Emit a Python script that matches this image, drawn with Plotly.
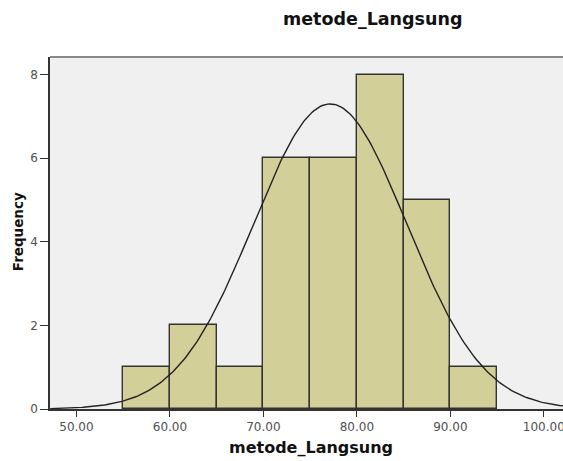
import numpy as np
import plotly.graph_objects as go

# Histogram data (bin edges at 5-unit intervals)
bin_starts = [55, 60, 65, 70, 75, 80, 85, 90]
counts = [1, 2, 1, 6, 6, 8, 5, 1]
bin_width = 5
# Fitted normal curve parameters
mean_val = 77.14
sd_val = 8.2
n_total = sum(counts)

x_ticks = [50, 60, 70, 80, 90, 100]
y_ticks = [0, 2, 4, 6, 8]

title_text = "metode_Langsung"
x_title = "metode_Langsung"
y_title = "Frequency"

centers = [b + bin_width / 2 for b in bin_starts]
xs = np.linspace(47.2, 103, 300)
ys = n_total * bin_width / (sd_val * np.sqrt(2 * np.pi)) * np.exp(-((xs - mean_val) ** 2) / (2 * sd_val ** 2))

W, H = 563, 461
L, R, T, B = 49.5, 0, 57.3, 461 - 409.3
pw = W - L - R
ph = H - T - B

def px_x(p):
    return (p - L) / pw

def px_y(p):
    return (H - B - p) / ph

fig = go.Figure()
fig.add_trace(go.Bar(
    x=centers, y=counts, width=[bin_width] * len(counts),
    marker=dict(color="#d3cf98", line=dict(color="#333333", width=1.4)),
    showlegend=False, hoverinfo="skip",
))
fig.add_trace(go.Scatter(
    x=xs, y=ys, mode="lines",
    line=dict(color="#222222", width=1.4),
    showlegend=False, hoverinfo="skip",
))

font_fam = "DejaVu Sans, sans-serif"
fig.update_layout(
    width=W, height=H,
    margin=dict(l=L, r=R, t=T, b=B, pad=0),
    paper_bgcolor="white",
    plot_bgcolor="#f0f0f0",
    bargap=0,
    font=dict(family=font_fam, size=12, color="#333333"),
    xaxis=dict(
        range=[47.17, 102.05], tickvals=x_ticks, tickformat=".2f",
        showgrid=False, zeroline=False, showline=True, linecolor="#333333", linewidth=1.5,
        ticks="outside", ticklen=6, tickcolor="#333333", tickwidth=1.2,
        tickfont=dict(size=12, color="#505050"),
        automargin=False, ticklabeloverflow="allow",
    ),
    yaxis=dict(
        range=[0, 8.42], tickvals=y_ticks,
        showgrid=False, zeroline=False, showline=True, linecolor="#333333", linewidth=1.5,
        ticks="outside", ticklen=8, tickcolor="#333333", tickwidth=1.2,
        tickfont=dict(size=12, color="#505050"),
        automargin=False,
    ),
    shapes=[dict(type="line", xref="paper", yref="paper", x0=0, x1=1, y0=1, y1=1,
                 line=dict(color="#888888", width=2))],
    annotations=[
        dict(text="<b>" + title_text + "</b>", xref="paper", yref="paper",
             x=px_x(372.7), y=px_y(19), xanchor="center", yanchor="middle", showarrow=False,
             font=dict(size=17.5, color="#111111", family=font_fam)),
        dict(text="<b>" + x_title + "</b>", xref="paper", yref="paper",
             x=px_x(310.5), y=px_y(448), xanchor="center", yanchor="middle", showarrow=False,
             font=dict(size=16, color="#111111", family=font_fam)),
        dict(text="<b>" + y_title + "</b>", xref="paper", yref="paper",
             x=px_x(17), y=px_y(232), xanchor="center", yanchor="middle", showarrow=False,
             textangle=-90,
             font=dict(size=13.5, color="#111111", family=font_fam)),
    ],
)

fig.write_html(
    "out.html",
    config={"displayModeBar": False},
    post_script="document.body.style.margin='0';document.body.style.overflow='hidden';",
)
